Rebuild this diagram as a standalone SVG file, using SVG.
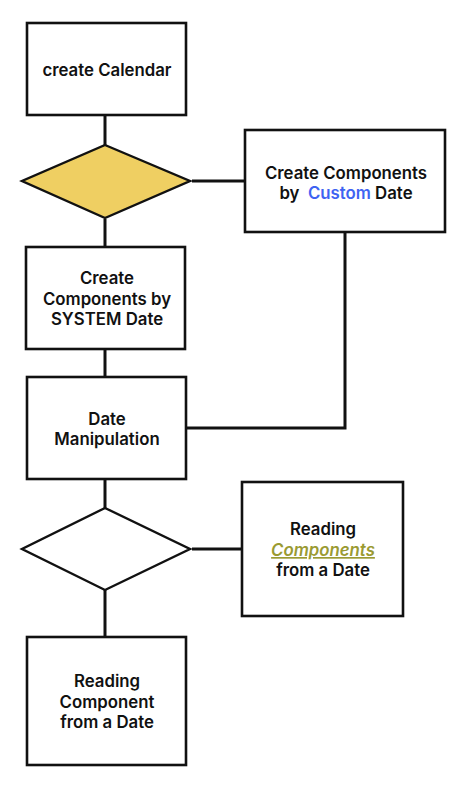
<svg xmlns="http://www.w3.org/2000/svg" width="473" height="800" viewBox="0 0 473 800">
<style>
.box{fill:#fff;stroke:#111;stroke-width:2.6}
.dia{stroke:#111;stroke-width:2.4;stroke-linejoin:miter}
.con{fill:none;stroke:#111;stroke-width:3}
text{font-family:Inter,"Liberation Sans",sans-serif;font-size:16.8px;font-weight:600;fill:#111;text-anchor:middle;white-space:pre}
.blue{fill:#3e63f2}
.olive{fill:#9a9a32;font-style:italic;text-decoration:underline}
</style>
<rect width="473" height="800" fill="#fff"/>
<g id="connectors">
<line class="con" x1="105" y1="116" x2="105" y2="146"/>
<line class="con" x1="192" y1="181" x2="245" y2="181"/>
<line class="con" x1="105" y1="219" x2="105" y2="248"/>
<polyline class="con" points="345,232 345,428 187,428"/>
<line class="con" x1="105" y1="349" x2="105" y2="378"/>
<line class="con" x1="105" y1="479" x2="105" y2="508"/>
<line class="con" x1="192" y1="549" x2="242" y2="549"/>
<line class="con" x1="105" y1="590" x2="105" y2="638"/>
</g>
<g id="create-calendar">
<rect class="box" x="27" y="23" width="159" height="92"/>
<text x="107" y="76">create Calendar</text>
</g>
<g id="decision-1">
<polygon class="dia" fill="#efcf62" points="105,145 190,181 105,218 22,181"/>
</g>
<g id="custom-date">
<rect class="box" x="245" y="130" width="200" height="102"/>
<text x="346" y="179">Create Components</text>
<text x="346" y="199" xml:space="preserve">by  <tspan class="blue">Custom</tspan> Date</text>
</g>
<g id="system-date">
<rect class="box" x="26" y="247" width="159" height="102"/>
<text x="107" y="284">Create</text>
<text x="107" y="305">Components by</text>
<text x="107" y="325">SYSTEM Date</text>
</g>
<g id="date-manipulation">
<rect class="box" x="27" y="377" width="159" height="102"/>
<text x="107" y="425">Date</text>
<text x="107" y="445">Manipulation</text>
</g>
<g id="decision-2">
<polygon class="dia" fill="#fff" points="105,508 190,549 105,590 22,549"/>
</g>
<g id="reading-components">
<rect class="box" x="242" y="482" width="161" height="134"/>
<text x="323" y="535">Reading</text>
<text x="323" y="556" class="olive">Components</text>
<text x="323" y="576">from a Date</text>
</g>
<g id="reading-component">
<rect class="box" x="27" y="637" width="159" height="128"/>
<text x="107" y="687">Reading</text>
<text x="107" y="708">Component</text>
<text x="107" y="728">from a Date</text>
</g>
</svg>
